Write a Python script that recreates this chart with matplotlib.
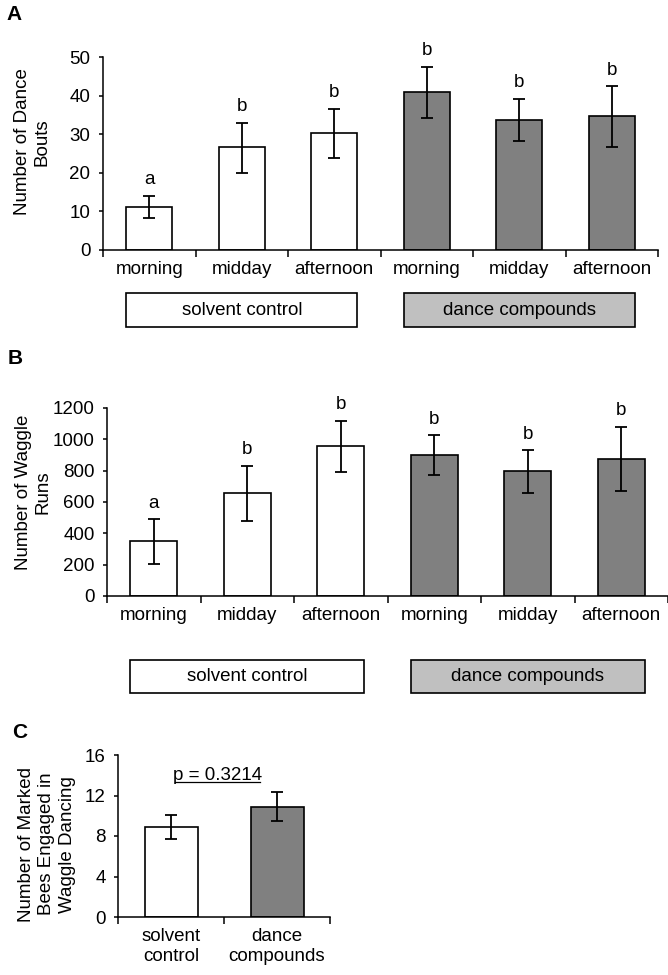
import numpy as np
import matplotlib
matplotlib.use("Agg")
import matplotlib.pyplot as plt
from matplotlib.patches import Rectangle
import matplotlib.transforms as mtransforms

plt.rcParams['font.family'] = ['Liberation Sans', 'DejaVu Sans']

# Dữ liệu panel A
times = ["morning", "midday", "afternoon", "morning", "midday", "afternoon"]
a_values = [11.2, 26.6, 30.2, 40.9, 33.7, 34.6]
a_err_low = [3.0, 6.6, 6.4, 6.6, 5.5, 8.0]
a_err_high = [2.9, 6.4, 6.4, 6.5, 5.4, 7.8]
a_letters = ["a", "b", "b", "b", "b", "b"]

# Dữ liệu panel B
b_values = [350, 655, 955, 900, 795, 875]
b_err_low = [145, 175, 165, 125, 140, 205]
b_err_high = [140, 175, 165, 125, 135, 205]
b_letters = ["a", "b", "b", "b", "b", "b"]

# Dữ liệu panel C
c_groups = ["solvent\ncontrol", "dance\ncompounds"]
c_values = [8.9, 10.9]
c_err = [1.2, 1.45]
c_pvalue = "p = 0.3214"

groups = ["solvent control", "dance compounds"]
bar_colors = ["white", "white", "white", "#808080", "#808080", "#808080"]
box_colors = ["white", "#c0c0c0"]

FS = 13.5
LW = 1.1
BAR_W = 0.5


def style_axes(ax):
    ax.spines['top'].set_visible(False)
    ax.spines['right'].set_visible(False)
    ax.spines['left'].set_linewidth(LW)
    ax.spines['bottom'].set_linewidth(LW)
    ax.tick_params(axis='y', direction='out', length=3, width=LW, labelsize=FS, pad=6)
    ax.tick_params(axis='x', which='major', length=0, labelsize=FS, pad=8)
    ax.tick_params(axis='x', which='minor', direction='out', length=5, width=LW)


def bar_panel(ax, values, err_low, err_high, letters, ymax, ystep, box_y):
    x = np.arange(len(values))
    ax.bar(x, values, width=BAR_W, color=bar_colors, edgecolor='black', linewidth=1.2, zorder=2)
    ax.errorbar(x, values, yerr=[err_low, err_high], fmt='none', ecolor='black',
                elinewidth=1.3, capsize=4, capthick=1.3, zorder=3)
    for xi, v, e, lt in zip(x, values, err_high, letters):
        ax.annotate(lt, (xi, v + e), xytext=(0, 5.5), textcoords='offset points',
                    ha='center', va='bottom', fontsize=FS)
    ax.set_xlim(-0.5, len(values) - 0.5)
    ax.set_ylim(0, ymax)
    ax.set_yticks(np.arange(0, ymax + 1, ystep))
    ax.set_xticks(x)
    ax.set_xticklabels(times)
    ax.set_xticks(np.arange(-0.5, len(values)), minor=True)
    style_axes(ax)
    # hộp nhóm bên dưới trục
    trans = mtransforms.blended_transform_factory(ax.transData, ax.transAxes)
    for gi, (name, fc) in enumerate(zip(groups, box_colors)):
        x0 = x[gi * 3] - BAR_W / 2
        x1 = x[gi * 3 + 2] + BAR_W / 2
        ax.add_patch(Rectangle((x0, box_y[1]), x1 - x0, box_y[0] - box_y[1], transform=trans,
                               facecolor=fc, edgecolor='black', linewidth=1.2, clip_on=False))
        ax.text((x0 + x1) / 2, (box_y[0] + box_y[1]) / 2, name, transform=trans,
                ha='center', va='center', fontsize=FS)


fig = plt.figure(figsize=(6.68, 9.75), dpi=100)

# Panel A
axA = fig.add_axes([103 / 668, 1 - 250 / 975, (658 - 103) / 668, 193 / 975])
bar_panel(axA, a_values, a_err_low, a_err_high, a_letters, 50, 10, (-0.223, -0.399))
axA.set_ylabel("Number of Dance\nBouts", fontsize=FS)
axA.yaxis.set_label_coords(-0.095, 0.56)
fig.text(6 / 668, 1 - 14 / 975, "A", fontsize=15, fontweight='bold', va='center')

# Panel B
axB = fig.add_axes([107 / 668, 1 - 596 / 975, (668 - 107) / 668, 188 / 975])
bar_panel(axB, b_values, b_err_low, b_err_high, b_letters, 1200, 200, (-0.340, -0.516))
axB.set_ylabel("Number of Waggle\nRuns", fontsize=FS)
axB.yaxis.set_label_coords(-0.099, 0.55)
fig.text(8 / 668, 1 - 359 / 975, "B", fontsize=15, fontweight='bold', va='center')

# Panel C
axC = fig.add_axes([118 / 668, 1 - 917 / 975, (330 - 118) / 668, 162 / 975])
xc = np.arange(len(c_values))
axC.bar(xc, c_values, width=BAR_W, color=["white", "#808080"], edgecolor='black',
        linewidth=1.2, zorder=2)
axC.errorbar(xc, c_values, yerr=c_err, fmt='none', ecolor='black', elinewidth=1.3,
             capsize=4, capthick=1.3, zorder=3)
axC.set_xlim(-0.5, len(c_values) - 0.5)
axC.set_ylim(0, 16)
axC.set_yticks(np.arange(0, 17, 4))
axC.set_xticks(xc)
axC.set_xticklabels(c_groups)
axC.set_xticks(np.arange(-0.5, len(c_values)), minor=True)
style_axes(axC)
axC.set_ylabel("Number of Marked\nBees Engaged in\nWaggle Dancing", fontsize=FS,
               linespacing=1.27)
axC.yaxis.set_label_coords(-0.2, 0.45)
axC.text(0.44, 14.0, c_pvalue, ha='center', va='center', fontsize=FS)
axC.plot([0.04, 0.84], [13.3, 13.3], color='black', linewidth=0.9, clip_on=False)
fig.text(12 / 668, 1 - 733 / 975, "C", fontsize=15, fontweight='bold', va='center')

fig.savefig("out.png", dpi=100)
